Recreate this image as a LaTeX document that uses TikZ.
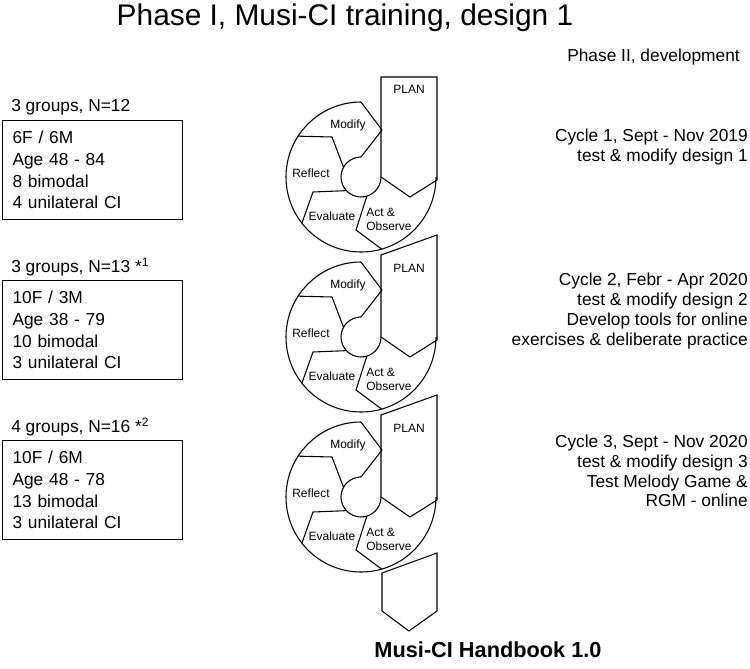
\documentclass[tikz,border=0pt]{standalone}
\usepackage{fontspec}
\setmainfont{Liberation Sans}
\begin{document}
\begin{tikzpicture}[x=0.75pt, y=-0.75pt,
                    seg/.style={line width=0.8pt},
                    lbl/.style={font=\fontsize{9}{10.5}\selectfont, inner sep=0pt},
                    txt/.style={font=\fontsize{13}{14.8}\selectfont, inner sep=0pt},
                    groupbox/.style={draw, line width=0.8pt, anchor=north west, align=left,
                        font=\fontsize{13}{16.3}\selectfont, text width=120pt,
                        inner xsep=7.5pt, minimum height=74.25pt}]
\useasboundingbox (0,0) rectangle (750,668);

\node[font=\fontsize{22.4}{26}\selectfont, inner sep=0pt] (title) at (345,18) {Phase I, Musi-CI training, design 1};

% three cycles
\foreach \k in {0,1,2} {
  \begin{scope}[shift={(361,177+160*\k)}]
    \draw[seg] (0,-75) arc (270:0:75);
    \draw[seg] (0,-20) arc (270:0:20);
    \draw[seg] (0,-75) -- (21,-47) -- (0,-20);
    \draw[seg] (213:75) -- (-29,-40) -- (209:20);
    \draw[seg] (142:75) -- (-48,15) -- (137:20);
    \draw[seg] (74:75) -- (-5,53) -- (73:20);
    \node[lbl] (modify\k) at (-13,-52) {Modify};
    \node[lbl] (reflect\k) at (-50,-4) {Reflect};
    \node[lbl] (evaluate\k) at (-29,39) {Evaluate};
    \node[lbl, align=left, anchor=west] (act\k) at (5,42) {Act \&\\Observe};
  \end{scope}
}
% plan arrows
\draw[seg] (381,77) -- (381,177) -- (410,197) -- (437,180) -- (437,77) -- cycle;
\draw[seg] (381,255) -- (381,337) -- (410,357) -- (437,340) -- (437,235) -- cycle;
\draw[seg] (381,415) -- (381,497) -- (410,517) -- (437,500) -- (437,395) -- cycle;
\draw[seg] (382,573) -- (382,611) -- (409,631) -- (437,611) -- (437,553) -- cycle;
\node[lbl] (plan0) at (409,89) {PLAN};
\node[lbl] (plan1) at (409,268) {PLAN};
\node[lbl] (plan2) at (409,428) {PLAN};

% groups
\node[txt, anchor=west] (grp1) at (11,107) {3 groups, N=12};
\node[groupbox] (box1) at (2,120) {6F / 6M\\Age 48 - 84\\8 bimodal\\4 unilateral CI};
\node[txt, anchor=west] (grp2) at (11,267) {3 groups, N=13 *\textsuperscript{1}};
\node[groupbox] (box2) at (2,280) {10F / 3M\\Age 38 - 79\\10 bimodal\\3 unilateral CI};
\node[txt, anchor=west] (grp3) at (11,427) {4 groups, N=16 *\textsuperscript{2}};
\node[groupbox] (box3) at (2,440) {10F / 6M\\Age 48 - 78\\13 bimodal\\3 unilateral CI};

% phase II
\node[txt, anchor=east] (phase2) at (740,57) {Phase II, development};
\node[txt, anchor=east, align=right] (cyc1) at (748,147) {Cycle 1, Sept - Nov 2019\\test \& modify design 1};
\node[txt, anchor=east, align=right] (cyc2) at (748,311) {Cycle 2, Febr - Apr 2020\\test \& modify design 2\\Develop tools for online\\exercises \& deliberate practice};
\node[txt, anchor=east, align=right] (cyc3) at (748,471) {Cycle 3, Sept - Nov 2020\\test \& modify design 3\\Test Melody Game \&\\RGM - online};

\node[font=\fontsize{16.3}{19}\selectfont\bfseries, inner sep=0pt] (handbook) at (488,650) {Musi-CI Handbook 1.0};
\end{tikzpicture}
\end{document}
